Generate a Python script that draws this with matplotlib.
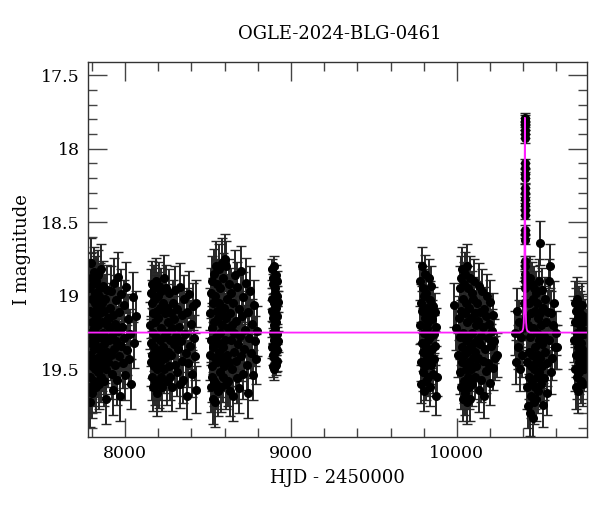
import matplotlib
matplotlib.use("Agg")
import matplotlib.pyplot as plt
from matplotlib.ticker import MultipleLocator

plt.rcParams['font.family'] = ['DejaVu Serif']

title = "OGLE-2024-BLG-0461"
xlabel = "HJD - 2450000"
ylabel = "I magnitude"

# HJD-2450000 and I magnitude, one pair of lists per season
s1_t = [7782, 7784, 7785, 7787, 7788, 7790, 7791, 7793, 7795, 7796, 7798, 7799, 7801, 7803, 7804, 7806,
        7807, 7809, 7811, 7812, 7814, 7816, 7817, 7819, 7821, 7822, 7824, 7826, 7828, 7829, 7831, 7833,
        7835, 7836, 7838, 7840, 7842, 7844, 7846, 7848, 7850, 7852, 7854, 7856, 7858, 7860, 7862, 7864,
        7866, 7868, 7871, 7873, 7875, 7877, 7880, 7882, 7884, 7887, 7889, 7892, 7894, 7897, 7899, 7902,
        7905, 7907, 7910, 7913, 7916, 7919, 7922, 7925, 7928, 7931, 7934, 7938, 7941, 7944, 7948, 7951,
        7955, 7958, 7962, 7966, 7970, 7974, 7978, 7982, 7987, 7991, 7996, 8001, 8006, 8011, 8017, 8023,
        8030, 8038, 8047, 8056, 8065]
s1_m = [19.25, 19.62, 18.95, 19.40, 19.72, 19.10, 19.55, 18.88, 19.32, 18.78, 19.18, 19.48, 19.02, 19.66,
        19.28, 18.92, 19.44, 19.12, 19.36, 18.84, 19.58, 19.22, 19.05, 19.50, 18.98, 19.30, 19.15, 19.62,
        18.90, 19.42, 19.08, 19.26, 19.52, 18.86, 19.35, 19.20, 19.60, 19.00, 19.45, 18.95, 19.28, 19.12,
        19.55, 18.82, 19.38, 19.18, 19.05, 19.48, 19.25, 18.93, 19.58, 19.33, 19.10, 19.42, 19.02, 19.28,
        19.50, 19.70, 18.96, 19.20, 19.38, 19.15, 19.45, 19.30, 19.15, 19.22, 19.08, 19.40, 18.97, 19.53,
        19.27, 19.13, 19.64, 18.91, 19.36, 19.19, 19.47, 19.03, 19.31, 19.57, 18.87, 19.24, 19.41, 19.11,
        19.68, 19.34, 18.99, 19.21, 19.46, 19.06, 19.29, 19.54, 18.94, 19.37, 19.16, 19.43, 19.26, 19.60,
        19.01, 19.32, 19.14]

s2_t = [8152, 8154, 8156, 8158, 8160, 8161, 8163, 8165, 8167, 8169, 8171, 8173, 8175, 8177, 8179, 8181,
        8183, 8185, 8187, 8189, 8191, 8193, 8195, 8197, 8199, 8201, 8203, 8206, 8208, 8210, 8212, 8215,
        8217, 8219, 8222, 8224, 8227, 8229, 8232, 8234, 8237, 8240, 8242, 8245, 8248, 8251, 8254, 8257,
        8260, 8263, 8266, 8269, 8272, 8275, 8279, 8282, 8286, 8289, 8293, 8297, 8300, 8304, 8308, 8312,
        8316, 8320, 8324, 8329, 8333, 8337, 8342, 8346, 8351, 8356, 8361, 8366, 8371, 8376, 8381, 8387,
        8392, 8398, 8403, 8409, 8414, 8420, 8425, 8430]
s2_m = [19.20, 19.45, 18.98, 19.32, 19.55, 19.05, 19.40, 18.92, 19.25, 19.62, 19.12, 19.48, 18.95, 19.35,
        19.18, 19.58, 19.02, 19.42, 18.90, 19.28, 19.66, 19.10, 19.50, 19.00, 19.38, 19.15, 19.60, 18.93,
        19.30, 19.45, 19.08, 19.55, 18.97, 19.22, 19.40, 19.62, 19.05, 19.35, 18.88, 19.28, 19.50, 19.12,
        19.42, 18.95, 19.25, 19.58, 19.08, 19.38, 19.18, 19.48, 18.98, 19.30, 19.55, 19.12, 19.40, 19.22,
        19.62, 19.05, 19.33, 19.16, 19.47, 18.96, 19.27, 19.52, 19.09, 19.36, 19.21, 19.60, 18.94, 19.31,
        19.44, 19.13, 19.57, 19.02, 19.26, 19.39, 19.68, 19.11, 19.46, 18.99, 19.34, 19.19, 19.53, 19.07,
        19.29, 19.41, 19.64, 19.05]

s3_t = [8512, 8514, 8516, 8518, 8520, 8522, 8524, 8526, 8527, 8529, 8531, 8533, 8535, 8537, 8539, 8541,
        8543, 8545, 8547, 8549, 8551, 8553, 8555, 8557, 8559, 8561, 8563, 8565, 8567, 8569, 8571, 8573,
        8575, 8577, 8580, 8582, 8584, 8586, 8589, 8591, 8593, 8596, 8598, 8601, 8603, 8606, 8608, 8611,
        8614, 8616, 8619, 8622, 8625, 8628, 8631, 8634, 8637, 8640, 8643, 8646, 8649, 8653, 8656, 8659,
        8663, 8666, 8670, 8673, 8677, 8681, 8685, 8689, 8693, 8697, 8701, 8705, 8710, 8714, 8719, 8724,
        8729, 8734, 8739, 8744, 8749, 8755, 8760, 8766, 8772, 8778, 8784, 8790, 8795]
s3_m = [19.12, 19.40, 19.62, 18.98, 19.30, 19.55, 18.90, 19.22, 19.48, 19.05, 19.70, 19.35, 18.85, 19.18,
        19.58, 19.72, 19.00, 19.42, 18.80, 19.28, 19.60, 19.10, 19.45, 18.92, 19.32, 19.15, 19.65, 18.82,
        19.38, 19.05, 19.52, 18.95, 19.25, 19.62, 19.12, 18.78, 19.42, 19.20, 19.55, 18.88, 19.35, 19.08,
        19.48, 18.75, 19.30, 19.60, 19.15, 18.80, 19.40, 19.02, 19.58, 19.22, 18.92, 19.45, 19.12, 19.65,
        19.30, 18.98, 19.50, 19.20, 19.68, 19.05, 19.38, 19.25, 18.86, 19.44, 19.17, 19.56, 18.94, 19.33,
        19.09, 19.63, 19.27, 18.83, 19.41, 19.14, 19.53, 19.01, 19.36, 19.23, 18.91, 19.47, 19.11, 19.66,
        19.29, 18.97, 19.39, 19.19, 19.54, 19.06, 19.31, 19.43, 19.24]

s4_t = [8885, 8886, 8887, 8888, 8889, 8890, 8891, 8892, 8893, 8894, 8895, 8896, 8897, 8898, 8899, 8900,
        8901, 8902, 8903, 8904, 8905, 8906, 8907, 8908, 8909, 8910, 8911, 8912, 8913, 8914, 8915, 8916,
        8917, 8918, 8919, 8920]
s4_m = [19.10, 18.82, 19.35, 19.02, 19.48, 18.92, 19.25, 19.40, 18.88, 19.15, 19.50, 19.05, 19.30, 18.80,
        19.20, 19.42, 18.98, 19.28, 19.12, 19.38, 18.95, 19.22, 19.45, 19.08, 19.33, 18.86, 19.18, 19.47,
        19.00, 19.26, 19.37, 18.90, 19.14, 19.44, 19.04, 19.31]

s5_t = [9778, 9780, 9782, 9784, 9786, 9788, 9790, 9792, 9794, 9796, 9798, 9800, 9802, 9804, 9806, 9808,
        9810, 9812, 9814, 9816, 9818, 9820, 9822, 9824, 9826, 9828, 9830, 9832, 9834, 9836, 9838, 9840,
        9842, 9845, 9848, 9851, 9854, 9857, 9860, 9863, 9866, 9869, 9872, 9876, 9880]
s5_m = [19.20, 18.90, 19.45, 19.05, 19.60, 18.80, 19.32, 19.10, 19.52, 18.95, 19.38, 19.65, 19.00, 19.25,
        18.85, 19.48, 19.15, 19.58, 18.98, 19.35, 19.22, 19.42, 19.08, 19.30, 19.55, 19.18, 18.88, 19.40,
        19.12, 19.62, 19.03, 19.28, 19.47, 18.93, 19.36, 19.16, 19.53, 19.07, 19.26, 19.43, 19.11, 19.34,
        19.68, 19.21, 19.55]

s6_t = [9981, 9995, 10005, 10012, 10016, 10018, 10020, 10022, 10024, 10026, 10028, 10030, 10032, 10034,
        10036, 10038, 10040, 10042, 10044, 10046, 10048, 10050, 10052, 10054, 10056, 10058, 10060, 10062,
        10064, 10066, 10068, 10070, 10072, 10074, 10076, 10078, 10080, 10082, 10085, 10087, 10089, 10092,
        10094, 10097, 10099, 10102, 10104, 10107, 10110, 10112, 10115, 10118, 10121, 10124, 10127, 10130,
        10133, 10136, 10139, 10142, 10145, 10148, 10152, 10155, 10159, 10162, 10166, 10170, 10173, 10177,
        10181, 10185, 10189, 10193, 10197, 10201, 10206, 10210, 10215, 10220, 10225, 10230, 10240]
s6_m = [19.06, 19.22, 19.40, 19.15, 18.95, 19.52, 19.28, 18.88, 19.62, 19.10, 19.45, 18.82, 19.35, 19.70,
        19.02, 19.25, 19.58, 18.92, 19.40, 19.12, 19.66, 18.85, 19.30, 19.50, 19.05, 19.72, 18.80, 19.38,
        19.18, 19.55, 18.95, 19.28, 19.62, 19.08, 19.45, 18.88, 19.35, 19.70, 19.15, 19.50, 18.98, 19.25,
        19.60, 19.02, 19.42, 18.90, 19.32, 19.55, 19.12, 19.38, 19.20, 19.48, 19.05, 19.30, 19.42, 19.17,
        19.64, 18.93, 19.33, 19.11, 19.57, 19.27, 18.97, 19.44, 19.21, 19.68, 19.09, 19.36, 19.14, 19.51,
        19.00, 19.29, 19.46, 19.19, 19.59, 19.04, 19.34, 19.24, 19.49, 19.13, 19.31, 19.42, 19.40]

s7_t = [10350, 10358, 10363, 10368, 10374, 10380, 10386, 10392, 10398, 10404, 10412, 10416, 10420, 10422,
        10424, 10426, 10428, 10430, 10432, 10434, 10436, 10438, 10440, 10442, 10444, 10446, 10448, 10450,
        10452, 10454, 10456, 10458, 10460, 10462, 10464, 10466, 10468, 10470, 10472, 10474, 10476, 10478,
        10480, 10482, 10484, 10486, 10488, 10490, 10492, 10494, 10496, 10498, 10500, 10503, 10505, 10508,
        10510, 10513, 10516, 10519, 10522, 10525, 10528, 10531, 10534, 10537, 10541, 10545, 10549, 10553,
        10556, 10560, 10565, 10570, 10575, 10580, 10586, 10592, 10598, 10602]
s7_m = [19.25, 19.45, 19.10, 19.35, 19.18, 19.50, 19.28, 19.40, 19.22, 19.05, 18.95, 19.15, 19.45, 18.92,
        19.62, 19.20, 19.75, 18.90, 19.38, 19.55, 19.05, 19.80, 19.28, 18.88, 19.48, 19.68, 19.12, 19.40,
        18.92, 19.58, 19.83, 19.22, 19.02, 19.50, 19.72, 18.95, 19.35, 19.62, 19.10, 19.45, 18.98, 19.70,
        19.25, 19.55, 19.05, 19.40, 19.65, 19.15, 18.90, 19.30, 19.52, 19.12, 18.64, 19.42, 19.20, 19.60,
        18.96, 19.33, 19.48, 19.08, 19.74, 19.27, 19.56, 19.02, 19.38, 19.18, 19.46, 19.66, 19.11, 18.90,
        19.30, 18.80, 19.52, 19.12, 19.42, 19.20, 19.05, 19.35, 19.25, 19.35]

# points on the magnification peak
peak_t = [10408, 10409, 10409, 10409, 10410, 10410, 10410, 10410, 10410, 10410, 10410, 10410, 10410,
          10410, 10410, 10410, 10410, 10410, 10410, 10410, 10410, 10410, 10410, 10410]
peak_m = [18.90, 18.85, 18.80, 18.76, 18.62, 18.58, 18.55, 18.45, 18.42, 18.38, 18.34, 18.30, 18.27,
          18.20, 18.17, 18.13, 18.10, 17.93, 17.90, 17.87, 17.84, 17.82, 17.80, 17.79]

s8_t = [10707, 10709, 10711, 10713, 10715, 10717, 10719, 10721, 10723, 10725, 10727, 10729, 10731, 10733,
        10735, 10737, 10739, 10741, 10743, 10745, 10747, 10749, 10751, 10753, 10755, 10757, 10759, 10761,
        10763, 10766, 10769, 10772, 10775, 10778, 10781]
s8_m = [19.30, 19.05, 19.50, 19.18, 19.62, 19.10, 19.40, 19.25, 19.55, 19.02, 19.35, 19.65, 19.15, 19.45,
        19.08, 19.28, 19.52, 19.20, 19.40, 19.12, 19.58, 19.32, 19.22, 19.47, 19.06, 19.36, 19.60, 19.14,
        19.42, 19.26, 19.50, 19.17, 19.38, 19.24, 19.44]

season_t = [s1_t, s2_t, s3_t, s4_t, s5_t, s6_t, s7_t, peak_t, s8_t]
season_m = [s1_m, s2_m, s3_m, s4_m, s5_m, s6_m, s7_m, peak_m, s8_m]
season_err = [0.17, 0.16, 0.17, 0.07, 0.13, 0.15, 0.15, 0.03, 0.15]

# microlensing model curve
model_t = [7700, 10380, 10395, 10400, 10403, 10405, 10407, 10408, 10409, 10410,
           10411, 10412, 10413, 10415, 10417, 10420, 10425, 10440, 10900]
model_m = [19.25, 19.25, 19.24, 19.22, 19.18, 19.10, 18.90, 18.55, 18.05, 17.79,
           18.05, 18.55, 18.90, 19.10, 19.18, 19.22, 19.24, 19.25, 19.25]

fig = plt.figure(figsize=(6.0, 5.12), dpi=100)
ax = fig.add_axes([0.1467, 0.1465, 0.8313, 0.7325])

for ts, ms, e in zip(season_t, season_m, season_err):
    pts = list(zip(ts, ms))
    t = [p[0] for p in pts]
    m = [p[1] for p in pts]
    ax.errorbar(t, m, yerr=e, fmt='o', color='black', ms=5.5, mfc='black', mec='black',
                ecolor='#262626', elinewidth=1.4, capsize=3.5, capthick=1.0, zorder=2)

ax.plot(model_t, model_m, color='#ff22ff', lw=1.3, zorder=3)

ax.set_xlim(7777, 10783)
ax.set_ylim(19.96, 17.41)
ax.xaxis.set_major_locator(MultipleLocator(1000))
ax.xaxis.set_minor_locator(MultipleLocator(200))
ax.yaxis.set_major_locator(MultipleLocator(0.5))
ax.yaxis.set_minor_locator(MultipleLocator(0.1))
ax.yaxis.set_major_formatter(plt.FuncFormatter(lambda v, p: f"{v:g}"))
ax.tick_params(which='both', direction='in', top=True, right=True, color='#444444',
               labelsize=12.5, width=1.0)
ax.tick_params(which='major', length=13.5, pad=6)
ax.tick_params(which='minor', length=6.5)
for sp in ax.spines.values():
    sp.set_color('#333333')
    sp.set_linewidth(1.0)

ax.set_xlabel(xlabel, fontsize=13, labelpad=5)
ax.set_ylabel(ylabel, fontsize=13, labelpad=7)
fig.text(0.567, 0.934, title, fontsize=13, ha='center', va='center')

fig.savefig("out.png", dpi=100)
